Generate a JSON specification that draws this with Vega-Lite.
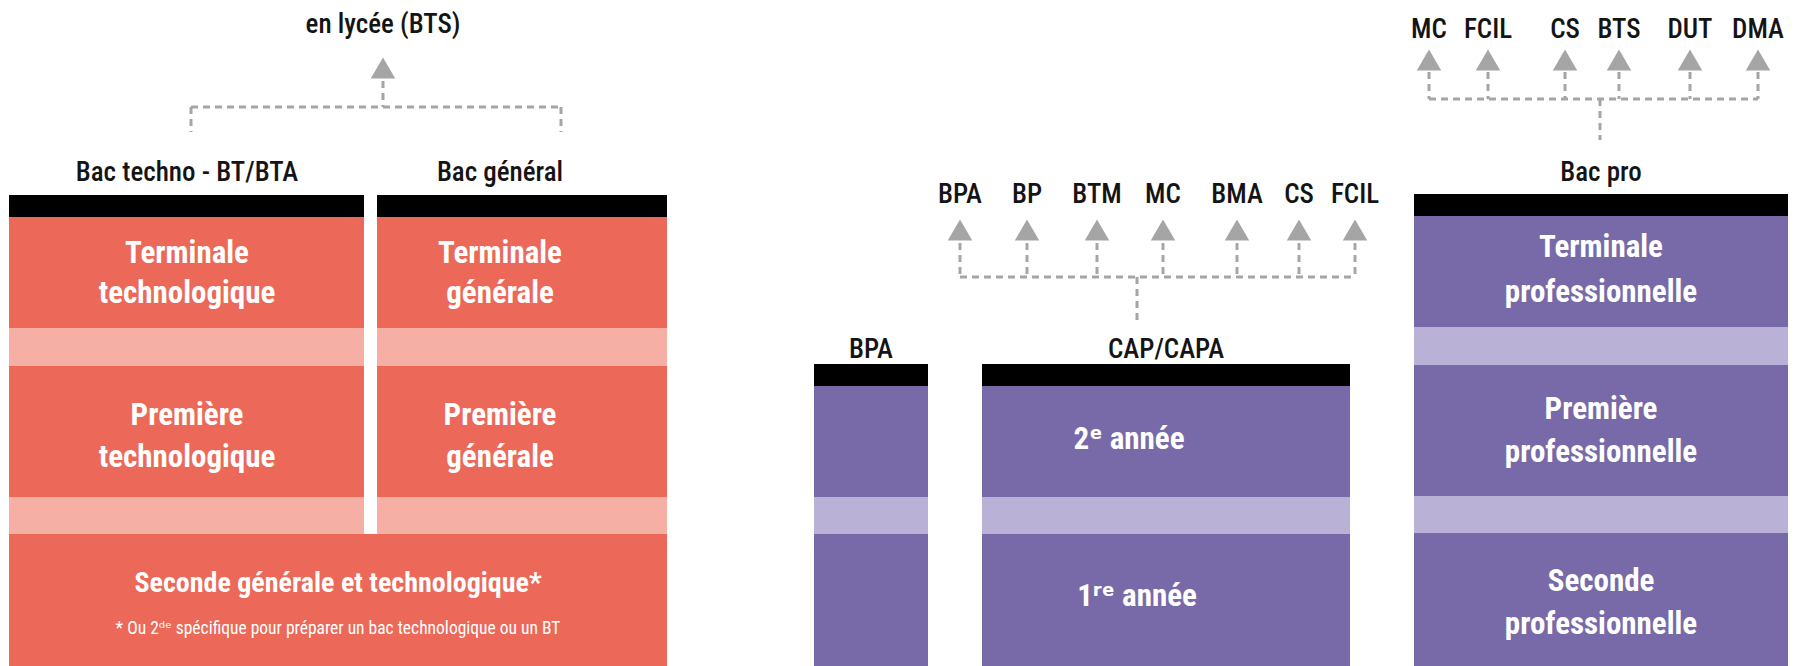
{
  "$schema": "https://vega.github.io/schema/vega-lite/v6.json",
  "width": 1797,
  "height": 666,
  "padding": 0,
  "autosize": {"type": "fit", "contains": "padding"},
  "background": "#ffffff",
  "config": {"view": {"stroke": null}},
  "datasets": {
    "blocks": [
      {"x": 9, "x2": 364, "y": 195, "y2": 217, "kind": "black"},
      {"x": 9, "x2": 364, "y": 217, "y2": 328, "kind": "red"},
      {"x": 9, "x2": 364, "y": 328, "y2": 366, "kind": "redLight"},
      {"x": 9, "x2": 364, "y": 366, "y2": 497, "kind": "red"},
      {"x": 9, "x2": 364, "y": 497, "y2": 534, "kind": "redLight"},
      {"x": 377, "x2": 667, "y": 195, "y2": 217, "kind": "black"},
      {"x": 377, "x2": 667, "y": 217, "y2": 328, "kind": "red"},
      {"x": 377, "x2": 667, "y": 328, "y2": 366, "kind": "redLight"},
      {"x": 377, "x2": 667, "y": 366, "y2": 497, "kind": "red"},
      {"x": 377, "x2": 667, "y": 497, "y2": 534, "kind": "redLight"},
      {"x": 9, "x2": 667, "y": 534, "y2": 666, "kind": "red"},
      {"x": 814, "x2": 928, "y": 364, "y2": 386, "kind": "black"},
      {"x": 814, "x2": 928, "y": 386, "y2": 497, "kind": "purple"},
      {"x": 814, "x2": 928, "y": 497, "y2": 534, "kind": "purpleLight"},
      {"x": 814, "x2": 928, "y": 534, "y2": 666, "kind": "purple"},
      {"x": 982, "x2": 1350, "y": 364, "y2": 386, "kind": "black"},
      {"x": 982, "x2": 1350, "y": 386, "y2": 497, "kind": "purple"},
      {"x": 982, "x2": 1350, "y": 497, "y2": 534, "kind": "purpleLight"},
      {"x": 982, "x2": 1350, "y": 534, "y2": 666, "kind": "purple"},
      {"x": 1414, "x2": 1788, "y": 194, "y2": 216, "kind": "black"},
      {"x": 1414, "x2": 1788, "y": 216, "y2": 327, "kind": "purple"},
      {"x": 1414, "x2": 1788, "y": 327, "y2": 365, "kind": "purpleLight"},
      {"x": 1414, "x2": 1788, "y": 365, "y2": 496, "kind": "purple"},
      {"x": 1414, "x2": 1788, "y": 496, "y2": 533, "kind": "purpleLight"},
      {"x": 1414, "x2": 1788, "y": 533, "y2": 666, "kind": "purple"}
    ],
    "links": [
      {"x": 383, "x2": 383, "y": 81, "y2": 107},
      {"x": 191, "x2": 561, "y": 107, "y2": 107},
      {"x": 191, "x2": 191, "y": 107, "y2": 132},
      {"x": 561, "x2": 561, "y": 107, "y2": 132},
      {"x": 960, "x2": 1355, "y": 277, "y2": 277},
      {"x": 1137, "x2": 1137, "y": 277, "y2": 322},
      {"x": 960, "x2": 960, "y": 243, "y2": 277},
      {"x": 1027, "x2": 1027, "y": 243, "y2": 277},
      {"x": 1097, "x2": 1097, "y": 243, "y2": 277},
      {"x": 1163, "x2": 1163, "y": 243, "y2": 277},
      {"x": 1237, "x2": 1237, "y": 243, "y2": 277},
      {"x": 1299, "x2": 1299, "y": 243, "y2": 277},
      {"x": 1355, "x2": 1355, "y": 243, "y2": 277},
      {"x": 1429, "x2": 1758, "y": 99, "y2": 99},
      {"x": 1600, "x2": 1600, "y": 99, "y2": 140},
      {"x": 1429, "x2": 1429, "y": 72, "y2": 99},
      {"x": 1488, "x2": 1488, "y": 72, "y2": 99},
      {"x": 1565, "x2": 1565, "y": 72, "y2": 99},
      {"x": 1619, "x2": 1619, "y": 72, "y2": 99},
      {"x": 1690, "x2": 1690, "y": 72, "y2": 99},
      {"x": 1758, "x2": 1758, "y": 72, "y2": 99}
    ],
    "arrows": [
      {"x": 383, "y": 68},
      {"x": 960, "y": 230},
      {"x": 1027, "y": 230},
      {"x": 1097, "y": 230},
      {"x": 1163, "y": 230},
      {"x": 1237, "y": 230},
      {"x": 1299, "y": 230},
      {"x": 1355, "y": 230},
      {"x": 1429, "y": 60},
      {"x": 1488, "y": 60},
      {"x": 1565, "y": 60},
      {"x": 1619, "y": 60},
      {"x": 1690, "y": 60},
      {"x": 1758, "y": 60}
    ],
    "texts": [
      {"label": "en lycée (BTS)", "x": 383, "y": 25, "role": "header"},
      {"label": "Bac techno - BT/BTA", "x": 187, "y": 173, "role": "header"},
      {"label": "Bac général", "x": 500, "y": 173, "role": "header"},
      {"label": "BPA", "x": 871, "y": 350, "role": "header"},
      {"label": "CAP/CAPA", "x": 1166, "y": 350, "role": "header"},
      {"label": "Bac pro", "x": 1601, "y": 173, "role": "header"},
      {"label": "BPA", "x": 960, "y": 195, "role": "header"},
      {"label": "BP", "x": 1027, "y": 195, "role": "header"},
      {"label": "BTM", "x": 1097, "y": 195, "role": "header"},
      {"label": "MC", "x": 1163, "y": 195, "role": "header"},
      {"label": "BMA", "x": 1237, "y": 195, "role": "header"},
      {"label": "CS", "x": 1299, "y": 195, "role": "header"},
      {"label": "FCIL", "x": 1355, "y": 195, "role": "header"},
      {"label": "MC", "x": 1429, "y": 30, "role": "header"},
      {"label": "FCIL", "x": 1488, "y": 30, "role": "header"},
      {"label": "CS", "x": 1565, "y": 30, "role": "header"},
      {"label": "BTS", "x": 1619, "y": 30, "role": "header"},
      {"label": "DUT", "x": 1690, "y": 30, "role": "header"},
      {"label": "DMA", "x": 1758, "y": 30, "role": "header"},
      {"label": "Terminale", "x": 187, "y": 254, "role": "block"},
      {"label": "technologique", "x": 187, "y": 294, "role": "block"},
      {"label": "Terminale", "x": 500, "y": 254, "role": "block"},
      {"label": "générale", "x": 500, "y": 294, "role": "block"},
      {"label": "Première", "x": 187, "y": 416, "role": "block"},
      {"label": "technologique", "x": 187, "y": 458, "role": "block"},
      {"label": "Première", "x": 500, "y": 416, "role": "block"},
      {"label": "générale", "x": 500, "y": 458, "role": "block"},
      {"label": "Seconde générale et technologique*", "x": 338, "y": 584, "role": "blockLong"},
      {"label": "* Ou 2ᵈᵉ spécifique pour préparer un bac technologique ou un BT", "x": 338, "y": 629, "role": "footnote"},
      {"label": "2ᵉ année", "x": 1129, "y": 440, "role": "block"},
      {"label": "1ʳᵉ année", "x": 1137, "y": 597, "role": "block"},
      {"label": "Terminale", "x": 1601, "y": 248, "role": "block"},
      {"label": "professionnelle", "x": 1601, "y": 293, "role": "block"},
      {"label": "Première", "x": 1601, "y": 410, "role": "block"},
      {"label": "professionnelle", "x": 1601, "y": 453, "role": "block"},
      {"label": "Seconde", "x": 1601, "y": 582, "role": "block"},
      {"label": "professionnelle", "x": 1601, "y": 625, "role": "block"}
    ]
  },
  "encoding": {
    "x": {"field": "x", "type": "quantitative", "axis": null, "scale": {"domain": [0, 1797], "nice": false, "zero": false}},
    "y": {"field": "y", "type": "quantitative", "axis": null, "scale": {"domain": [0, 666], "nice": false, "zero": false, "reverse": true}}
  },
  "layer": [
    {
      "data": {"name": "blocks"},
      "mark": {"type": "rect"},
      "encoding": {
        "x2": {"field": "x2"},
        "y2": {"field": "y2"},
        "color": {
          "field": "kind", "type": "nominal", "legend": null,
          "scale": {"domain": ["black", "red", "redLight", "purple", "purpleLight"],
                    "range": ["#000000", "#EC6858", "#F5AFA5", "#786AA9", "#BAB2D6"]}
        }
      }
    },
    {
      "data": {"name": "links"},
      "mark": {"type": "rule", "color": "#A5A5A5", "strokeWidth": 3, "strokeDash": [7, 5]},
      "encoding": {"x2": {"field": "x2"}, "y2": {"field": "y2"}}
    },
    {
      "data": {"name": "arrows"},
      "mark": {"type": "point", "shape": "triangle-up", "filled": true, "color": "#A5A5A5", "opacity": 1, "size": 600},
      "encoding": {}
    },
    {
      "data": {"name": "texts"},
      "transform": [{"filter": "datum.role === 'header'"}],
      "mark": {"type": "text", "font": "Roboto Condensed, DejaVu Sans Condensed, Roboto, sans-serif", "fontSize": 27, "fontWeight": 500, "color": "#141414", "align": "center", "baseline": "middle"},
      "encoding": {"text": {"field": "label"}}
    },
    {
      "data": {"name": "texts"},
      "transform": [{"filter": "datum.role === 'block'"}],
      "mark": {"type": "text", "font": "Roboto Condensed, DejaVu Sans Condensed, Roboto, sans-serif", "fontSize": 31, "fontWeight": "bold", "color": "#ffffff", "align": "center", "baseline": "middle"},
      "encoding": {"text": {"field": "label"}}
    },
    {
      "data": {"name": "texts"},
      "transform": [{"filter": "datum.role === 'blockLong'"}],
      "mark": {"type": "text", "font": "Roboto Condensed, DejaVu Sans Condensed, Roboto, sans-serif", "fontSize": 28, "fontWeight": "bold", "color": "#ffffff", "align": "center", "baseline": "middle"},
      "encoding": {"text": {"field": "label"}}
    },
    {
      "data": {"name": "texts"},
      "transform": [{"filter": "datum.role === 'footnote'"}],
      "mark": {"type": "text", "font": "Roboto Condensed, DejaVu Sans Condensed, Roboto, sans-serif", "fontSize": 17.5, "fontWeight": "normal", "color": "#ffffff", "align": "center", "baseline": "middle"},
      "encoding": {"text": {"field": "label"}}
    }
  ]
}
